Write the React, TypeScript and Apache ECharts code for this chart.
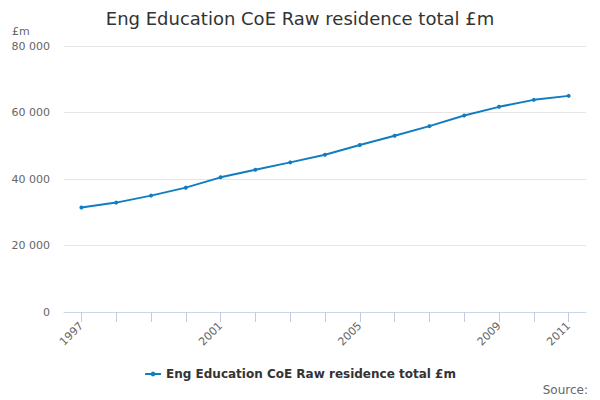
import React, { useEffect, useRef } from "react";
import * as echarts from "echarts";

const years = ["1997","1998","1999","2000","2001","2002","2003","2004","2005","2006","2007","2008","2009","2010","2011"];
const values = [31400, 32900, 35000, 37400, 40500, 42800, 45000, 47300, 50200, 53000, 55900, 59100, 61700, 63800, 65000];
const seriesName = "Eng Education CoE Raw residence total £m";
const titleText = "Eng Education CoE Raw residence total £m";
const FONT = "DejaVu Sans";

export default function App() {
  const ref = useRef<HTMLDivElement>(null);
  useEffect(() => {
    if (!ref.current) return;
    const chart = echarts.init(ref.current, undefined, { renderer: "svg" });
    chart.setOption({
      animation: false,
      backgroundColor: "#ffffff",
      textStyle: { fontFamily: FONT },
      title: {
        text: titleText,
        left: "center",
        top: 4,
        textStyle: { fontFamily: FONT, fontSize: 18, fontWeight: "normal", color: "#333333" },
      },
      graphic: [
        { type: "text", left: 12, top: 26, style: { text: "£m", fontFamily: FONT, fontSize: 11, fill: "#666666" } },
        { type: "text", right: 12, top: 384, style: { text: "Source:", fontFamily: FONT, fontSize: 12, fill: "#666666" } },
      ],
      legend: {
        top: 363,
        left: "center",
        itemWidth: 16,
        itemHeight: 6,
        textStyle: { fontFamily: FONT, fontSize: 12, fontWeight: "bold", color: "#333333" },
        data: [seriesName],
      },
      grid: { left: 64, right: 14, top: 46, bottom: 88 },
      xAxis: {
        type: "category",
        data: years,
        boundaryGap: true,
        axisLine: { lineStyle: { color: "#ccd6eb", width: 1 } },
        axisTick: { show: true, alignWithLabel: true, interval: 0, length: 10, lineStyle: { color: "#c0cbe0", width: 1 } },
        axisLabel: {
          rotate: 45,
          interval: (i: number) => i % 4 === 0 || i === years.length - 1,
          color: "#666666",
          fontSize: 11,
          fontFamily: FONT,
          margin: 12,
        },
      },
      yAxis: {
        type: "value",
        min: 0,
        max: 80000,
        interval: 20000,
        axisLine: { show: false },
        axisTick: { show: false },
        splitLine: { lineStyle: { color: "#e6e6e6" } },
        axisLabel: {
          color: "#666666",
          fontSize: 11,
          fontFamily: FONT,
          margin: 14,
          formatter: (v: number) => String(v).replace(/\B(?=(\d{3})+(?!\d))/g, " "),
        },
      },
      series: [
        {
          name: seriesName,
          type: "line",
          data: values,
          symbol: "circle",
          symbolSize: 4,
          lineStyle: { color: "#117dc1", width: 2 },
          itemStyle: { color: "#117dc1" },
        },
      ],
    });
    return () => chart.dispose();
  }, []);
  return <div ref={ref} style={{ position: "fixed", left: 0, top: 0, width: 600, height: 400 }} />;
}
